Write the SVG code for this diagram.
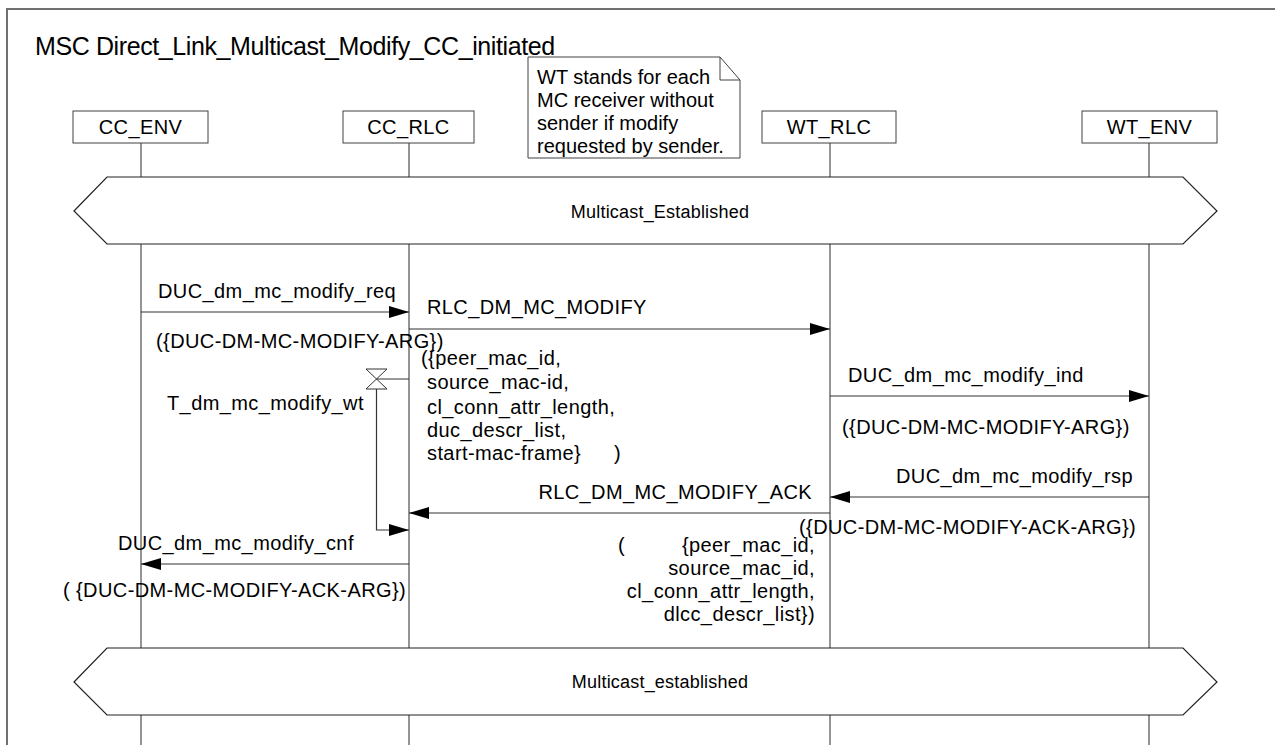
<svg xmlns="http://www.w3.org/2000/svg" width="1275" height="745" viewBox="0 0 1275 745">
<defs>
<style>
text{font-family:"Liberation Sans",Arial,sans-serif;fill:#000}
.t{font-size:20px;letter-spacing:0.4px}
.title{font-size:25px;letter-spacing:-0.4px}
.hx{font-size:18px;letter-spacing:0.2px}
.nt{font-size:20px}
.box{fill:#fff;stroke:#404040;stroke-width:1}
.life{stroke:#707070;stroke-width:1.5;fill:none}
.msg{stroke:#333;stroke-width:1.2;fill:none}
.hex{fill:#fff;stroke:#222;stroke-width:1.2}
</style>
<marker id="ah" viewBox="0 0 20 12" refX="20" refY="6" markerWidth="20" markerHeight="12" markerUnits="userSpaceOnUse" orient="auto">
<path d="M0,0 L20,6 L0,12 Z" fill="#000"/>
</marker>
</defs>
<rect width="1275" height="745" fill="#fff"/>
<rect x="7" y="9" width="1320" height="800" fill="none" stroke="#707070" stroke-width="2"/>
<text class="title" x="35" y="55">MSC Direct_Link_Multicast_Modify_CC_initiated</text>

<g id="lifelines">
<line class="life" x1="141" y1="143" x2="141" y2="745"/>
<line class="life" x1="409" y1="143" x2="409" y2="745"/>
<line class="life" x1="830" y1="143" x2="830" y2="745"/>
<line class="life" x1="1149" y1="143" x2="1149" y2="745"/>
</g>

<g id="CC_ENV"><rect class="box" x="73" y="111" width="135" height="32"/><text class="t" x="140.5" y="134" text-anchor="middle">CC_ENV</text></g>
<g id="CC_RLC"><rect class="box" x="343" y="111" width="131" height="32"/><text class="t" x="408.5" y="134" text-anchor="middle">CC_RLC</text></g>
<g id="WT_RLC"><rect class="box" x="762" y="111" width="134" height="32"/><text class="t" x="829" y="134" text-anchor="middle">WT_RLC</text></g>
<g id="WT_ENV"><rect class="box" x="1082" y="111" width="135" height="32"/><text class="t" x="1149.5" y="134" text-anchor="middle">WT_ENV</text></g>

<g id="note">
<path d="M528,57 L720,57 L740,80 L740,158 L528,158 Z" fill="#fff" stroke="#404040" stroke-width="1"/>
<path d="M720,57 L720,80 L740,80" fill="none" stroke="#404040" stroke-width="1"/>
<text class="nt" x="537" y="84">WT stands for each</text>
<text class="nt" x="537" y="107">MC receiver without</text>
<text class="nt" x="537" y="130">sender if modify</text>
<text class="nt" x="537" y="153">requested by sender.</text>
</g>

<g id="cond1">
<path class="hex" d="M74,211 L107,177 L1183,177 L1217,211 L1183,244 L107,244 Z"/>
<text class="hx" x="660" y="218" text-anchor="middle">Multicast_Established</text>
</g>
<g id="cond2">
<path class="hex" d="M74,682 L107,648 L1183,648 L1217,682 L1183,715 L107,715 Z"/>
<text class="hx" x="660" y="688" text-anchor="middle">Multicast_established</text>
</g>

<g id="timer">
<path d="M366,369 L387,369 L366,389 L387,389 Z" fill="#fff" stroke="#333" stroke-width="1"/>
<text class="t" x="167" y="410">T_dm_mc_modify_wt</text>
</g>

<g id="connectors">
<line class="msg" x1="141" y1="312" x2="409" y2="312" marker-end="url(#ah)"/>
<line class="msg" x1="409" y1="329" x2="830" y2="329" marker-end="url(#ah)"/>
<line class="msg" x1="409" y1="379" x2="376.5" y2="379"/>
<polyline class="msg" points="376.5,389 376.5,530 409,530" marker-end="url(#ah)"/>
<line class="msg" x1="830" y1="396" x2="1149" y2="396" marker-end="url(#ah)"/>
<line class="msg" x1="1149" y1="497" x2="830" y2="497" marker-end="url(#ah)"/>
<line class="msg" x1="830" y1="513" x2="409" y2="513" marker-end="url(#ah)"/>
<line class="msg" x1="409" y1="564" x2="141" y2="564" marker-end="url(#ah)"/>
</g>

<g id="labels">
<text class="t" x="158" y="298">DUC_dm_mc_modify_req</text>
<text class="t" x="156" y="348">({DUC-DM-MC-MODIFY-ARG})</text>
<text class="t" x="427" y="314">RLC_DM_MC_MODIFY</text>
<text class="t" x="421" y="365">({peer_mac_id,</text>
<text class="t" x="427" y="389">source_mac-id,</text>
<text class="t" x="427" y="414">cl_conn_attr_length,</text>
<text class="t" x="427" y="437">duc_descr_list,</text>
<text class="t" x="427" y="460">start-mac-frame}<tspan x="614">)</tspan></text>
<text class="t" x="848" y="382">DUC_dm_mc_modify_ind</text>
<text class="t" x="842" y="434">({DUC-DM-MC-MODIFY-ARG})</text>
<text class="t" x="1133" y="483" text-anchor="end">DUC_dm_mc_modify_rsp</text>
<text class="t" x="812" y="499" text-anchor="end">RLC_DM_MC_MODIFY_ACK</text>
<text class="t" x="799" y="534">({DUC-DM-MC-MODIFY-ACK-ARG})</text>
<text class="t" x="618" y="552">(</text>
<text class="t" x="815" y="552" text-anchor="end">{peer_mac_id,</text>
<text class="t" x="815" y="575" text-anchor="end">source_mac_id,</text>
<text class="t" x="815" y="598" text-anchor="end">cl_conn_attr_length,</text>
<text class="t" x="815" y="621" text-anchor="end">dlcc_descr_list})</text>
<text class="t" x="118" y="550">DUC_dm_mc_modify_cnf</text>
<text class="t" x="63" y="597">( {DUC-DM-MC-MODIFY-ACK-ARG})</text>
</g>
</svg>
